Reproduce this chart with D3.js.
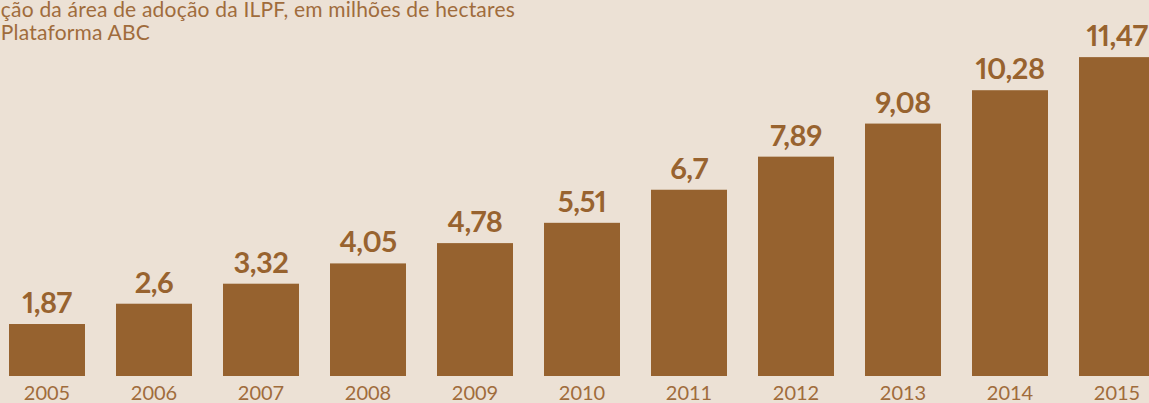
<!DOCTYPE html>
<html><head><meta charset="utf-8">
<script src="https://cdn.jsdelivr.net/npm/d3@7"></script>
<style>
html,body{margin:0;padding:0;background:#ECE1D5;}
svg{display:block;}
.val{font-variant-numeric: proportional-nums; font-feature-settings: "pnum" 1;}
</style></head>
<body>
<svg id="c" width="1149" height="403"></svg>
<script>
const years = ["2005","2006","2007","2008","2009","2010","2011","2012","2013","2014","2015"];
const values = [1.87, 2.6, 3.32, 4.05, 4.78, 5.51, 6.7, 7.89, 9.08, 10.28, 11.47];
const valueLabels = ["1,87","2,6","3,32","4,05","4,78","5,51","6,7","7,89","9,08","10,28","11,47"];
const titleLines = ["Evolução da área de adoção da ILPF, em milhões de hectares", "Fonte: Plataforma ABC"];

const svg = d3.select("#c");
const W = 1149, H = 403;
svg.append("rect").attr("width", W).attr("height", H).attr("fill", "#ECE1D5");

const pInner = 31/107;
const x = d3.scaleBand().domain(years).range([9, 9 + 107*(years.length - pInner)]).paddingInner(pInner).paddingOuter(0);
const y = d3.scaleLinear().domain([0, 12]).range([376, 376 - 12*27.8]);

const font = "Lato, 'Noto Sans', sans-serif";
const data = years.map((yr, i) => ({yr, v: values[i], lab: valueLabels[i]}));

svg.selectAll("rect.bar").data(data).join("rect")
  .attr("class","bar")
  .attr("x", d => x(d.yr)).attr("width", x.bandwidth())
  .attr("y", d => y(d.v)).attr("height", d => y(0) - y(d.v))
  .attr("fill", "#96622F");

svg.selectAll("text.val").data(data).join("text")
  .attr("class","val")
  .attr("x", d => x(d.yr) + x.bandwidth()/2)
  .attr("y", d => y(d.v) - 11)
  .attr("text-anchor","middle")
  .attr("font-family", font).attr("font-weight", 700).attr("font-size", 29)
  .attr("letter-spacing", -0.5)
  .attr("fill", "#98632F")
  .text(d => d.lab);

const xAxis = d3.axisBottom(x).tickSize(0).tickPadding(0);
const ax = svg.append("g").attr("transform", `translate(0, ${y(0)})`).call(xAxis);
ax.select(".domain").remove();
ax.selectAll("text")
  .attr("y", 24).attr("dy", null)
  .attr("font-family", font).attr("font-weight", 400).attr("font-size", 20)
  .attr("fill", "#A06C3C");

svg.append("text").attr("x", 515).attr("y", 17).attr("text-anchor","end")
  .attr("font-family", font).attr("font-size", 21).attr("letter-spacing", 0.2).attr("fill", "#A06C3C")
  .text(titleLines[0]);
svg.append("text").attr("x", 150).attr("y", 40).attr("text-anchor","end")
  .attr("font-family", font).attr("font-size", 21).attr("letter-spacing", 0.2).attr("fill", "#A06C3C")
  .text(titleLines[1]);
</script>
</body></html>
